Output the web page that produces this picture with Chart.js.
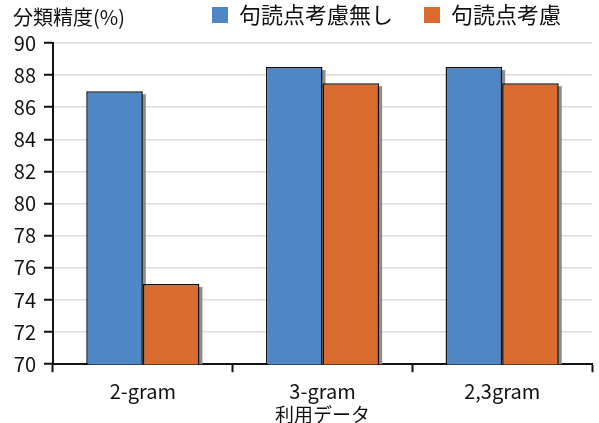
<!DOCTYPE html>
<html>

<head>
    <meta charset="utf-8">
    <title>分類精度</title>
    <style>
        html, body { margin: 0; padding: 0; background: #fff; }
        #wrap { width: 599px; height: 423px; }
    </style>
</head>

<body>
    <div id="wrap"><canvas id="myChart"></canvas></div>
    <script src="https://cdn.jsdelivr.net/npm/chart.js@4.4.6/dist/chart.umd.min.js"></script>
    <script>
        const categories = ["2-gram", "3-gram", "2,3gram"]
        const seriesNames = ["句読点考慮無し", "句読点考慮"]
        const noPunctuation = [87, 88.5, 88.5]
        const withPunctuation = [75, 87.5, 87.5]
        const yMin = 70
        const yMax = 90
        const yStep = 2
        const yTitle = "分類精度(%)"
        const xTitle = "利用データ"

        const FONT = "'Noto Sans CJK JP', 'Noto Sans', sans-serif"

        // gray drop shadow behind each bar, offset down-right
        const barShadow = {
            id: "barShadow",
            beforeDatasetsDraw(chart) {
                const ctx = chart.ctx
                const area = chart.chartArea
                ctx.save()
                ctx.beginPath()
                ctx.rect(area.left, area.top, area.right - area.left, area.bottom - area.top)
                ctx.clip()
                ctx.fillStyle = "#8c8c8c"
                chart.data.datasets.forEach((ds, i) => {
                    chart.getDatasetMeta(i).data.forEach(el => {
                        const p = el.getProps(["x", "y", "base", "width"], true)
                        ctx.fillRect(p.x - p.width / 2 + 3, p.y + 3, p.width, p.base - p.y)
                    })
                })
                ctx.restore()
            },
        }

        // keep the wide legend spacing without the tall legend box
        const legendHeight = {
            id: "legendHeight",
            beforeInit(chart) {
                const lg = chart.legend
                const fit = lg.fit
                lg.fit = function () {
                    fit.call(this)
                    this.height = 70
                }
            },
        }

        // unit label at the top left, same row as the legend
        const unitLabel = {
            id: "unitLabel",
            afterDraw(chart) {
                const ctx = chart.ctx
                const hb = chart.legend.legendHitBoxes[0]
                ctx.save()
                ctx.font = "20px " + FONT
                ctx.fillStyle = "#111"
                ctx.textBaseline = "middle"
                ctx.textAlign = "left"
                ctx.fillText(yTitle, 13, hb.top + hb.height / 2 + 2)
                ctx.restore()
            },
        }

        new Chart(document.getElementById("myChart"), {
            type: "bar",
            data: {
                labels: categories,
                datasets: [{
                    label: seriesNames[0],
                    data: noPunctuation,
                    backgroundColor: "rgb(79, 134, 198)",
                    borderColor: "#111",
                    borderWidth: 1.5,
                    borderSkipped: false,
                }, {
                    label: seriesNames[1],
                    data: withPunctuation,
                    backgroundColor: "rgb(217, 107, 46)",
                    borderColor: "#111",
                    borderWidth: 1.5,
                    borderSkipped: false,
                }],
            },
            plugins: [barShadow, legendHeight, unitLabel],
            options: {
                responsive: true,
                maintainAspectRatio: false,
                animation: false,
                datasets: {
                    bar: {
                        categoryPercentage: 0.63,
                        barPercentage: 1,
                    },
                },
                layout: {
                    padding: { left: 0, right: 7, top: -27, bottom: -3 },
                },
                plugins: {
                    legend: {
                        position: "top",
                        align: "end",
                        labels: {
                            boxWidth: 16,
                            boxHeight: 16,
                            padding: 31,
                            color: "#111",
                            font: { family: FONT, size: 22 },
                            generateLabels(chart) {
                                return chart.data.datasets.map((ds, i) => ({
                                    text: ds.label,
                                    fillStyle: ds.backgroundColor,
                                    strokeStyle: ds.backgroundColor,
                                    lineWidth: 0,
                                    datasetIndex: i,
                                    fontColor: "#111",
                                }))
                            },
                        },
                    },
                    tooltip: { enabled: false },
                },
                scales: {
                    x: {
                        grid: {
                            offset: true,
                            drawOnChartArea: false,
                            tickLength: 8,
                            tickColor: "#111",
                            tickWidth: 2,
                        },
                        border: { color: "#111", width: 2 },
                        ticks: {
                            color: "#111",
                            padding: 7,
                            font: { family: FONT, size: 20 },
                        },
                        title: {
                            display: true,
                            text: xTitle,
                            color: "#111",
                            padding: { top: -7, bottom: 0 },
                            font: { family: FONT, size: 19 },
                        },
                    },
                    y: {
                        min: yMin,
                        max: yMax,
                        afterFit(scale) {
                            scale.width = 53
                        },
                        grid: {
                            color: "#dcdcdc",
                            lineWidth: 1.5,
                            tickLength: 9,
                            tickColor: "#111",
                            tickWidth: 2,
                        },
                        border: { color: "#111", width: 2 },
                        ticks: {
                            stepSize: yStep,
                            color: "#111",
                            padding: 8,
                            font: { family: FONT, size: 20 },
                        },
                    },
                },
            },
        })
    </script>
</body>

</html>
